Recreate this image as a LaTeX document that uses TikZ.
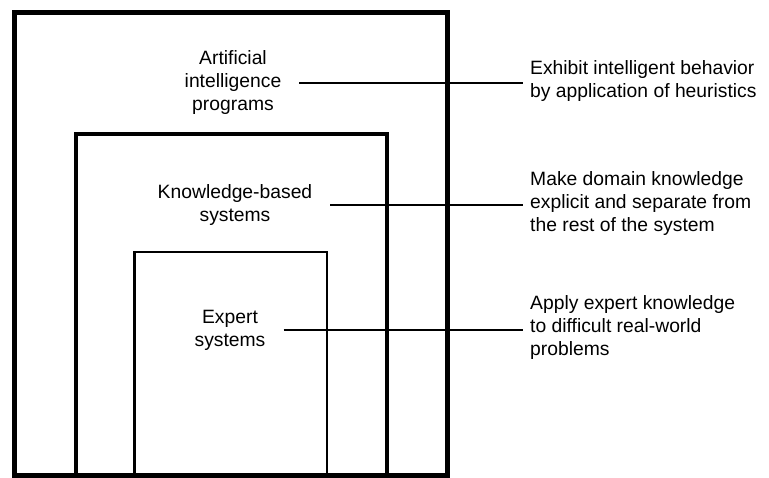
\documentclass[tikz,border=0pt]{standalone}
\usepackage{fontspec}
\setmainfont{Liberation Sans}
\usepackage{tikz}
\usetikzlibrary{positioning}
\tikzset{
  layer/.style={draw=black},
  lbl/.style={align=center, inner sep=0pt, font=\fontsize{19.3}{23}\selectfont},
  note/.style={align=left, anchor=west, inner sep=0pt, font=\fontsize{19.3}{23}\selectfont},
  lead/.style={line width=1.6pt, shorten <=18pt, shorten >=7pt}
}

\begin{document}
\begin{tikzpicture}[x=1pt,y=-1pt]
        \useasboundingbox (0,0) rectangle (769,478);
        % The nested layers
        \draw[layer, line width=5pt] (14.5,12.5) rectangle (447,475);
        \draw[layer, line width=4pt] (75.5,134) rectangle (386.5,475);
        \draw[layer, line width=2.5pt] (134.5,252) rectangle (327,475);
        % Label the layers
        \node[lbl] (aip) at (233,83) {Artificial\\intelligence\\programs};
        \node[lbl] (kbs) at (235,205) {Knowledge-based\\systems};
        \node[lbl] (es) at (230,330) {Expert\\systems};
        % What each layer does
        \node[note] (aipnote) at (530,81) {Exhibit intelligent behavior\\by application of heuristics};
        \node[note] (kbsnote) at (530,204) {Make domain knowledge\\explicit and separate from\\the rest of the system};
        \node[note] (esnote) at (530,328) {Apply expert knowledge\\to difficult real-world\\problems};
        % Leader lines
        \draw[lead] (aip.east) -- (aipnote.west |- aip.east);
        \draw[lead] (kbs.east) -- (kbsnote.west |- kbs.east);
        \draw[lead] (es.east) -- (esnote.west |- es.east);
\end{tikzpicture}
\end{document}
